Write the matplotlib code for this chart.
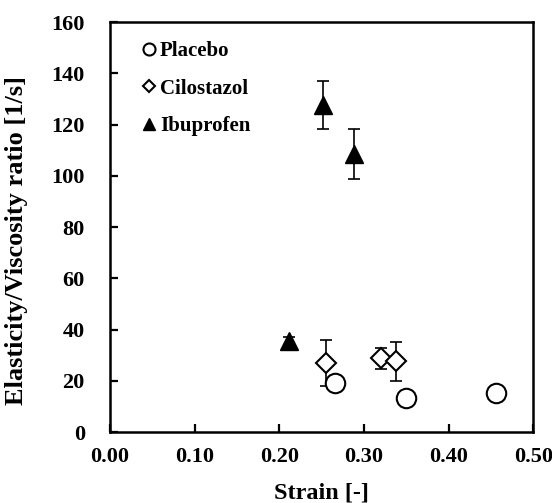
import matplotlib
matplotlib.use("Agg")
import matplotlib.pyplot as plt
import numpy as np

plt.rcParams['font.family'] = ['Liberation Serif', 'DejaVu Serif']
plt.rcParams['font.weight'] = 'bold'

placebo_x = [0.266, 0.350, 0.456]
placebo_y = [19.1, 13.3, 15.2]

cilo_x = [0.255, 0.320, 0.338]
cilo_y = [26.9, 28.9, 27.7]
cilo_err = [9.0, 4.1, 7.6]

ibu_x = [0.212, 0.252, 0.288]
ibu_y = [35.5, 127.6, 108.5]
ibu_err = [1.5, 9.4, 9.7]

xticks = [0.0, 0.1, 0.2, 0.3, 0.4, 0.5]
yticks = [0, 20, 40, 60, 80, 100, 120, 140, 160]

fig = plt.figure(figsize=(5.52, 5.03), dpi=100)
ax = fig.add_axes([0.199, 0.141, 0.767, 0.815])

ax.errorbar(ibu_x, ibu_y, yerr=ibu_err, fmt='none', ecolor='black', elinewidth=1.2, capsize=4, capthick=1.2, zorder=2)
ax.errorbar(cilo_x, cilo_y, yerr=cilo_err, fmt='none', ecolor='black', elinewidth=1.2, capsize=4, capthick=1.2, zorder=2)

ax.plot(placebo_x, placebo_y, 'o', ms=14, mfc='white', mec='black', mew=1.5, ls='none', label='Placebo', zorder=3)
ax.plot(cilo_x, cilo_y, 'D', ms=10.5, mfc='white', mec='black', mew=1.5, ls='none', label='Cilostazol', zorder=3)
ax.plot(ibu_x, ibu_y, '^', ms=13, mfc='black', mec='black', mew=1, ls='none', label='Ibuprofen', zorder=3)

ax.set_xlim(0, 0.5)
ax.set_ylim(0, 160)
ax.set_xticks(xticks)
ax.set_xticklabels([f"{v:.2f}" for v in xticks])
ax.set_yticks(yticks)
ax.set_yticklabels([str(v) for v in yticks])
ax.tick_params(direction='in', length=5.5, width=1.6, labelsize=16, top=False, right=False)
ax.tick_params(axis='y', pad=18)
ax.tick_params(axis='x', pad=11)
for lab in ax.get_xticklabels() + ax.get_yticklabels():
    lab.set_fontweight('bold')
for s in ax.spines.values():
    s.set_linewidth(1.8)

ax.set_xlabel('Strain [-]', fontsize=17.5, fontweight='bold', labelpad=11)
ax.set_ylabel('Elasticity/Viscosity ratio [1/s]', fontsize=19, fontweight='bold')
ax.yaxis.set_label_coords(-0.193, 0.468)

leg = ax.legend(loc='upper left', frameon=False, markerscale=0.62,
                handlelength=0.5, handletextpad=0.3, labelspacing=0.85,
                bbox_to_anchor=(0.035, 1.0), prop={'weight': 'bold', 'size': 15})

fig.savefig('out.png', dpi=100)
